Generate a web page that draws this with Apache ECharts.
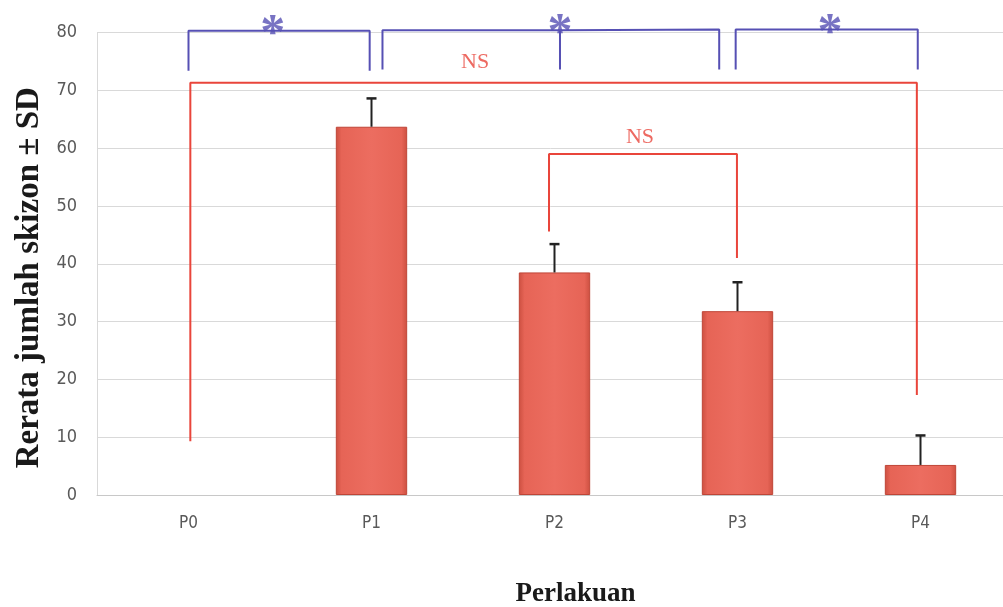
<!DOCTYPE html>
<html>
<head>
<meta charset="utf-8">
<script src="https://cdn.jsdelivr.net/npm/echarts@6/dist/echarts.min.js"></script>
<style>
  html, body { margin: 0; padding: 0; background: #ffffff; }
  #chart { width: 1003px; height: 607px; }
</style>
</head>
<body>
<div id="chart"></div>
<script>
// Treatment groups and mean schizont counts with their standard deviations
const categories = ['P0', 'P1', 'P2', 'P3', 'P4'];
const means = [0, 63.7, 38.5, 31.8, 5.2];
const sds = [0, 4.9, 4.9, 5.0, 5.1];

// Y axis scale
const yMin = 0;
const yMax = 80;
const yStep = 10;

// Significance brackets, as [categoryIndex, value] vertices
const sigBrackets = [
  [[0.0, 73.4], [0.0, 80.3], [0.99, 80.3], [0.99, 73.4]],
  [[1.06, 73.6], [1.06, 80.4], [2.03, 80.4], [2.03, 73.6], [2.03, 80.4], [2.90, 80.5], [2.90, 73.6]],
  [[2.99, 73.6], [2.99, 80.5], [3.985, 80.5], [3.985, 73.6]]
];
const nsBrackets = [
  [[0.01, 9.3], [0.01, 71.3], [3.98, 71.3], [3.98, 17.3]],
  [[1.97, 45.6], [1.97, 59.0], [2.997, 59.0], [2.997, 41.0]]
];
const sigMarks = [[0.46, 80.3, '*'], [2.03, 80.4, '*'], [3.505, 80.5, '*']];
const nsMarks = [[1.566, 74.9, 'NS'], [2.467, 61.9, 'NS']];

const BLUE = '#5650b4';
const RED = '#e9453b';

const chart = echarts.init(document.getElementById('chart'), null, { renderer: 'canvas' });

const bracketSeries = (list, color) => list.map(pts => ({
  type: 'line',
  xAxisIndex: 1,
  yAxisIndex: 0,
  data: pts,
  showSymbol: false,
  symbol: 'none',
  clip: false,
  silent: true,
  z: 5,
  lineStyle: { color: color, width: 2 }
}));

const textMarks = (list, labelStyle) => ({
  type: 'scatter',
  xAxisIndex: 1,
  yAxisIndex: 0,
  symbolSize: 1,
  itemStyle: { color: 'rgba(0,0,0,0)' },
  clip: false,
  silent: true,
  z: 6,
  data: list,
  label: Object.assign({
    show: true,
    position: 'inside',
    formatter: p => p.value[2]
  }, labelStyle)
});

const option = {
  animation: false,
  backgroundColor: '#ffffff',
  grid: { left: 97, right: -9, top: 32.5, bottom: 112, containLabel: false, outerBoundsMode: 'none' },
  xAxis: [
    {
      type: 'category',
      data: categories,
      axisLine: { show: true, lineStyle: { color: '#c8c8c8', width: 1 } },
      axisTick: { show: false },
      axisLabel: {
        margin: 20,
        color: '#595959',
        fontSize: 17,
        fontFamily: '"Liberation Sans Narrow", "DejaVu Sans Condensed", "Noto Sans", sans-serif'
      },
      name: 'Perlakuan',
      nameLocation: 'middle',
      nameGap: 86,
      nameTextStyle: {
        color: '#1a1a1a',
        fontSize: 27,
        fontWeight: 'bold',
        fontFamily: '"Liberation Serif", "DejaVu Serif", serif',
        padding: [0, 0, 0, 42]
      }
    },
    {
      type: 'value',
      min: -0.5,
      max: 4.5,
      show: false
    }
  ],
  yAxis: {
    type: 'value',
    min: yMin,
    max: yMax,
    interval: yStep,
    axisLine: { show: true, onZero: false, lineStyle: { color: '#d9d9d9' } },
    axisTick: { show: false },
    splitLine: { show: true, lineStyle: { color: '#d9d9d9', width: 1 } },
    axisLabel: {
      margin: 20,
      color: '#595959',
      fontSize: 18,
      fontFamily: '"Liberation Sans Narrow", "DejaVu Sans Condensed", "Noto Sans", sans-serif'
    },
    name: 'Rerata jumlah skizon ± SD',
    nameLocation: 'middle',
    nameGap: 51,
    nameTextStyle: {
      color: '#1a1a1a',
      fontSize: 33,
      fontWeight: 'bold',
      fontFamily: '"Liberation Serif", "DejaVu Serif", serif',
      padding: [0, 28, 0, 0]
    }
  },
  series: [
    {
      type: 'bar',
      data: means.map(v => v > 0 ? v : { value: v, itemStyle: { borderWidth: 0, opacity: 0 } }),
      barWidth: '39%',
      z: 2,
      itemStyle: {
        color: new echarts.graphic.LinearGradient(0, 0, 1, 0, [
          { offset: 0, color: '#cc4f40' },
          { offset: 0.08, color: '#e66456' },
          { offset: 0.5, color: '#ec6d60' },
          { offset: 0.92, color: '#e66456' },
          { offset: 1, color: '#cc4f40' }
        ]),
        borderColor: '#bf4537',
        borderWidth: 1
      }
    },
    {
      type: 'custom',
      z: 4,
      silent: true,
      data: means.map((m, i) => [i, m, sds[i]]),
      renderItem: function (params, api) {
        const i = api.value(0);
        const m = api.value(1);
        const sd = api.value(2);
        if (!sd) return null;
        const base = api.coord([i, m]);
        const top = api.coord([i, m + sd]);
        const half = 5;
        return {
          type: 'group',
          children: [
            { type: 'line', shape: { x1: base[0], y1: base[1], x2: top[0], y2: top[1] },
              style: { stroke: '#222222', lineWidth: 2 } },
            { type: 'line', shape: { x1: top[0] - half, y1: top[1], x2: top[0] + half, y2: top[1] },
              style: { stroke: '#222222', lineWidth: 2.5 } }
          ]
        };
      }
    },
    ...bracketSeries(sigBrackets, BLUE),
    ...bracketSeries(nsBrackets, RED),
    textMarks(sigMarks, {
      offset: [0, 4],
      color: BLUE,
      fontSize: 50,
      fontWeight: 'bold',
      fontFamily: '"Liberation Serif", "DejaVu Serif", serif'
    }),
    textMarks(nsMarks, {
      color: RED,
      fontSize: 22,
      fontFamily: '"Liberation Serif", "DejaVu Serif", serif'
    })
  ]
};

chart.setOption(option);
</script>
</body>
</html>
